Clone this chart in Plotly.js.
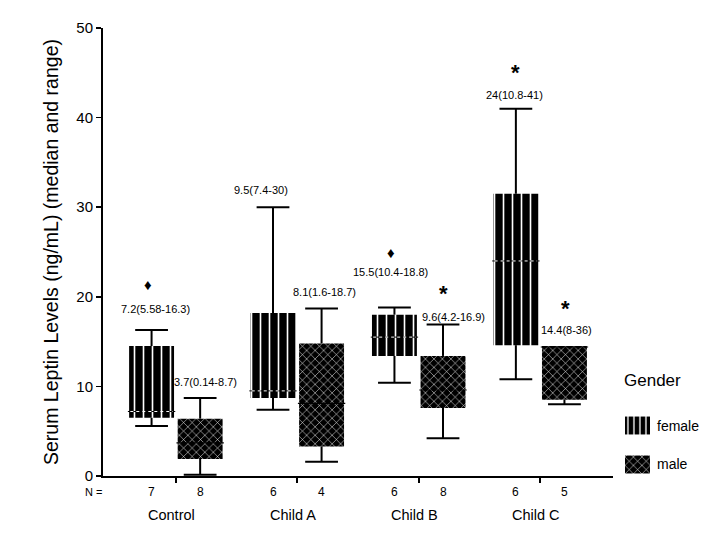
<!DOCTYPE html>
<html>
<head>
<meta charset="utf-8">
<script src="https://cdn.plot.ly/plotly-3.0.1.min.js"></script>
<style>html,body{margin:0;padding:0;background:#fff;}#chart{width:720px;height:540px;}</style>
</head>
<body>
<div id="chart"></div>
<script>
// ---------------- DATA ----------------
const groups = ['Control', 'Child A', 'Child B', 'Child C'];
const nFemale = [7, 6, 6, 6];
const nMale = [8, 4, 8, 5];

const femaleQ1 = [6.5, 8.7, 13.4, 14.6];
const femaleMedian = [7.2, 9.5, 15.5, 24];
const femaleQ3 = [14.5, 18.2, 18.0, 31.5];
const femaleMin = [5.58, 7.4, 10.4, 10.8];
const femaleMax = [16.3, 30, 18.8, 41];

const maleQ1 = [1.9, 3.3, 7.6, 8.5];
const maleMedian = [3.7, 8.1, 9.6, 14.4];
const maleQ3 = [6.4, 14.8, 13.4, 14.5];
const maleMin = [0.14, 1.6, 4.2, 8.0];
const maleMax = [8.7, 18.7, 16.9, 14.5];

const femaleLabels = ['7.2(5.58-16.3)', '9.5(7.4-30)', '15.5(10.4-18.8)', '24(10.8-41)'];
const maleLabels = ['3.7(0.14-8.7)', '8.1(1.6-18.7)', '9.6(4.2-16.9)', '14.4(8-36)'];
const femaleMarks = ['\u2666', '', '\u2666', '*'];
const maleMarks = ['', '', '*', '*'];
const legendNames = ['female', 'male'];
const legendTitle = 'Gender';
const yTitle = 'Serum Leptin Levels (ng/mL) (median and range)';

// ---------------- LAYOUT / STYLE ----------------
const FONT = 'Arial, "Liberation Sans", sans-serif';
const OFF = 0.2, BOXW = 0.37, CAP = 0.135, MEDW = 0.195;
const pos = (i, s) => i + 1 + s * OFF;

// label positions (data units)
const femaleLabelPos = [[0.835, 18.6], [1.70, 31.9], [2.77, 22.8], [3.79, 42.5]];
const maleLabelPos = [[1.24, 10.5], [2.22, 20.5], [3.29, 17.7], [4.22, 16.3]];
const femaleMarkPos = [[0.77, 21.4], null, [2.77, 25.0], [3.80, 45.6]];
const maleMarkPos = [null, null, [3.20, 20.9], [4.21, 19.2]];

const femalePattern = {shape: '|', bgcolor: 'black', fgcolor: 'white', size: 9, solidity: 0.18, fillmode: 'replace'};
const malePattern = {shape: 'x', bgcolor: 'black', fgcolor: 'white', size: 6, solidity: 0.16, fillmode: 'replace'};

function boxBars(q1, q3, s, pattern) {
  return {
    type: 'bar', x: q1.map((_, i) => pos(i, s)), y: q3.map((v, i) => v - q1[i]), base: q1,
    width: BOXW, marker: {color: 'black', line: {width: 0}, pattern: pattern},
    hoverinfo: 'skip', showlegend: false
  };
}
function whiskers(q1, q3, lo, hi, s) {
  const xs = [], ys = [];
  q1.forEach((_, i) => {
    const x = pos(i, s);
    if (hi[i] > q3[i]) {
      xs.push(x, x, null, x - CAP, x + CAP, null);
      ys.push(q3[i], hi[i], null, hi[i], hi[i], null);
    }
    if (lo[i] < q1[i]) {
      xs.push(x, x, null, x - CAP, x + CAP, null);
      ys.push(q1[i], lo[i], null, lo[i], lo[i], null);
    }
  });
  return {type: 'scatter', mode: 'lines', x: xs, y: ys, line: {color: 'black', width: 2},
    hoverinfo: 'skip', showlegend: false, cliponaxis: false};
}
function medians(med, s, color, width, dash, half) {
  const xs = [], ys = [];
  med.forEach((m, i) => { const x = pos(i, s); xs.push(x - half, x + half, null); ys.push(m, m, null); });
  return {type: 'scatter', mode: 'lines', x: xs, y: ys, line: {color: color, width: width, dash: dash},
    hoverinfo: 'skip', showlegend: false};
}

const data = [
  boxBars(femaleQ1, femaleQ3, -1, femalePattern),
  boxBars(maleQ1, maleQ3, 1, malePattern),
  {
    type: 'bar', orientation: 'h', x: [1, 1], y: [1, 0], base: 0, width: 0.46,
    xaxis: 'x2', yaxis: 'y2', hoverinfo: 'skip', showlegend: false,
    marker: {color: 'black', line: {width: 0}, pattern: {shape: ['|', 'x'], bgcolor: 'black', fgcolor: 'white',
      size: [6, 6], solidity: [0.22, 0.16], fillmode: 'replace'}}
  },
  whiskers(femaleQ1, femaleQ3, femaleMin, femaleMax, -1),
  whiskers(maleQ1, maleQ3, maleMin, maleMax, 1),
  medians(femaleMedian, -1, 'black', 1, 'solid', MEDW),
  medians(femaleMedian, -1, 'white', 1, 'dot', BOXW / 2 - 0.01),
  medians(maleMedian, 1, 'black', 1.2, 'solid', MEDW)
];

const annotations = [];
const txt = (x, y, text, size, extra) => Object.assign({x: x, y: y, xref: 'x', yref: 'y', text: text, showarrow: false,
  font: {family: FONT, size: size, color: 'black'}, xanchor: 'center', yanchor: 'middle'}, extra || {});

femaleLabels.forEach((t, i) => annotations.push(txt(femaleLabelPos[i][0], femaleLabelPos[i][1], t, 11)));
maleLabels.forEach((t, i) => annotations.push(txt(maleLabelPos[i][0], maleLabelPos[i][1], t, 11)));
function addMark(m, p) {
  if (!m || !p) return;
  if (m === '*') annotations.push(txt(p[0], p[1], '<b>*</b>', 22, {yshift: -5}));
  else annotations.push(txt(p[0], p[1], m, 15));
}
femaleMarks.forEach((m, i) => addMark(m, femaleMarkPos[i]));
maleMarks.forEach((m, i) => addMark(m, maleMarkPos[i]));

// N row and group names (below the axis, paper y)
const N_ROW_Y = -0.0043, GROUP_ROW_Y = -0.054;
annotations.push(txt(-0.0166, N_ROW_Y, 'N =', 11, {xref: 'paper', yref: 'paper'}));
nFemale.forEach((n, i) => annotations.push(txt(pos(i, -1), N_ROW_Y, String(n), 12, {yref: 'paper'})));
nMale.forEach((n, i) => annotations.push(txt(pos(i, 1), N_ROW_Y, String(n), 12, {yref: 'paper'})));
groups.forEach((g, i) => annotations.push(txt(i + 1, GROUP_ROW_Y, g, 14.5, {yref: 'paper', xshift: -4})));

// legend text
annotations.push({x: 0.9136, y: 0.238, xref: 'paper', yref: 'paper', text: legendTitle, showarrow: false,
  font: {family: FONT, size: 17, color: 'black'}, xanchor: 'center', yanchor: 'middle'});
legendNames.forEach((n, i) => annotations.push({x: 1, y: 1 - i, xref: 'x2', yref: 'y2', text: n, showarrow: false,
  font: {family: FONT, size: 14, color: 'black'}, xanchor: 'left', yanchor: 'middle', xshift: 5}));

const layout = {
  width: 720, height: 540,
  margin: {l: 103, r: 15, t: 28, b: 50, pad: 0},
  paper_bgcolor: 'white', plot_bgcolor: 'white',
  showlegend: false, barmode: 'overlay',
  font: {family: FONT, color: 'black'},
  xaxis: {domain: [0, 0.8472], range: [0.4, 4.6], tickvals: [1, 2, 3, 4], showticklabels: false,
    ticks: 'outside', ticklen: 5, tickwidth: 2, tickcolor: 'black',
    showline: true, linecolor: 'black', linewidth: 1.5, showgrid: false, zeroline: false, fixedrange: true},
  yaxis: {domain: [0.0303, 1], range: [0, 50], dtick: 10, tick0: 0,
    ticks: 'outside', ticklen: 5, tickwidth: 1.5, tickcolor: 'black',
    tickfont: {family: FONT, size: 15, color: 'black'},
    showline: true, linecolor: 'black', linewidth: 2, showgrid: false, zeroline: false,
    title: {text: yTitle, font: {family: FONT, size: 19.5, color: 'black'}, standoff: 12}},
  xaxis2: {domain: [0.867, 0.9086], range: [0, 1], visible: false, anchor: 'y2', fixedrange: true},
  yaxis2: {domain: [0.013, 0.1818], range: [-0.5, 1.5], visible: false, anchor: 'x2', fixedrange: true},
  annotations: annotations
};

Plotly.newPlot('chart', data, layout, {displayModeBar: false, staticPlot: true});
</script>
</body>
</html>
